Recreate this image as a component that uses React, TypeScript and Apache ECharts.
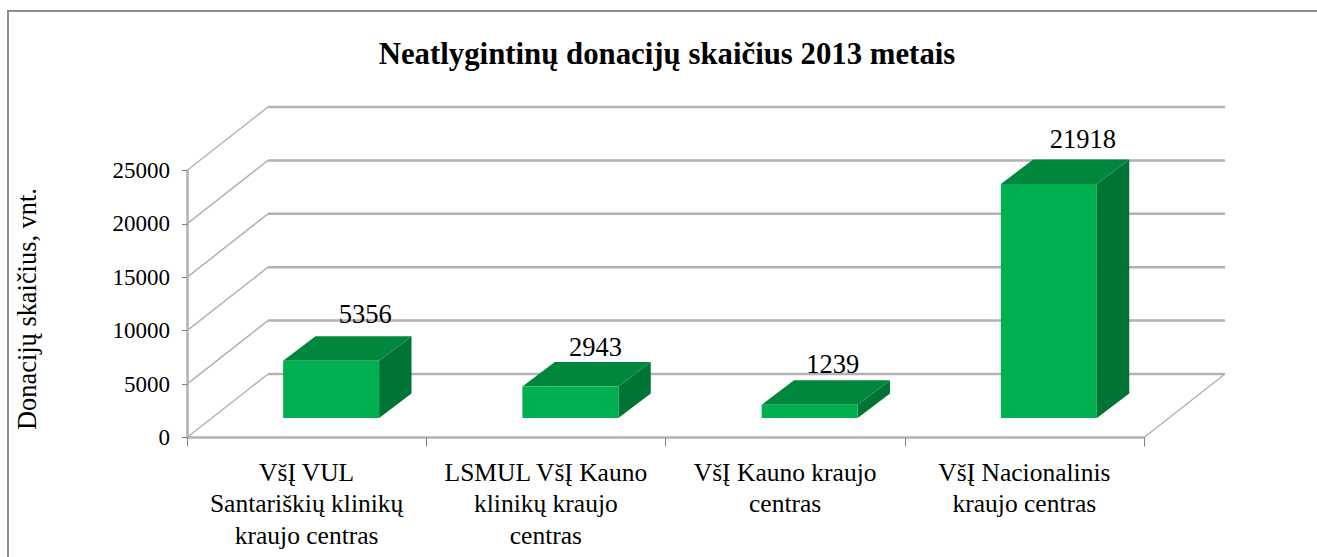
import React, { useEffect, useRef } from "react";
import * as echarts from "echarts";

const titleText = "Neatlygintinų donacijų skaičius 2013 metais";
const yAxisName = "Donacijų skaičius, vnt.";
const categories = [
  "VšĮ VUL\nSantariškių klinikų\nkraujo centras",
  "LSMUL VšĮ Kauno\nklinikų kraujo\ncentras",
  "VšĮ Kauno kraujo\ncentras",
  "VšĮ Nacionalinis\nkraujo centras",
];
const values = [5356, 2943, 1239, 21918];
const yTicks = [0, 5000, 10000, 15000, 20000, 25000];

const FONT = "'Liberation Serif', 'Times New Roman', serif";
const WALL_DX = 81;
const WALL_DY = -63.5;
const BAR_W = 96;
const BAR_SHIFT_X = 24.5;
const BAR_SHIFT_Y = -19.5;
const DEPTH_X = 32.4;
const DEPTH_Y = -24.5;
const LABEL_NUDGE_X = [34, 25, 23, 34];
const LABEL_NUDGE_Y = [-22, -15, -16, -20];

const GRID_COLOR = "#b2b2b2";

export default function App() {
  const ref = useRef<HTMLDivElement>(null);
  useEffect(() => {
    document.body.style.margin = "0";
    const chart = echarts.init(ref.current!, undefined, { renderer: "svg" });
    chart.setOption({
      animation: false,
      backgroundColor: "#ffffff",
      title: {
        text: titleText,
        left: 662,
        top: 33,
        textAlign: "center",
        textStyle: { fontFamily: FONT, fontSize: 30.8, fontWeight: "bold", color: "#000" },
      },
      grid: { left: 187, top: 170.5, width: 957, height: 267 },
      xAxis: {
        type: "category",
        data: categories,
        axisLine: { lineStyle: { color: GRID_COLOR, width: 2.5 } },
        axisTick: { show: true, length: 9, lineStyle: { color: "#808080", width: 1 } },
        axisLabel: {
          interval: 0,
          margin: 19,
          fontFamily: FONT,
          fontSize: 25.5,
          lineHeight: 31.5,
          color: "#000",
        },
        splitLine: { show: false },
      },
      yAxis: {
        type: "value",
        min: 0,
        max: 25000,
        interval: 5000,
        name: yAxisName,
        nameLocation: "middle",
        nameGap: 147,
        nameRotate: 90,
        nameTextStyle: { fontFamily: FONT, fontSize: 26.4, color: "#000", padding: [0, 10, 0, 0] },
        axisLine: { show: true, lineStyle: { color: GRID_COLOR, width: 2.5 } },
        axisTick: { show: true, length: 5, lineStyle: { color: "#808080", width: 1 } },
        axisLabel: {
          margin: 17,
          fontFamily: FONT,
          fontSize: 23,
          color: "#000",
          formatter: (v: number) => String(v),
        },
        splitLine: { show: false },
      },
      series: [
        {
          type: "custom",
          coordinateSystem: "cartesian2d",
          silent: true,
          z: 1,
          data: yTicks.map((t) => [0, t]),
          encode: { x: 0, y: 1 },
          renderItem: (params: any, api: any) => {
            const cs = params.coordSys;
            const y = api.coord([0, api.value(1)])[1];
            const x0 = cs.x;
            const x1 = cs.x + cs.width;
            const children: any[] = [
              {
                type: "line",
                shape: { x1: x0, y1: y, x2: x0 + WALL_DX, y2: y + WALL_DY },
                style: { stroke: GRID_COLOR, lineWidth: 1.5 },
              },
              {
                type: "line",
                shape: { x1: x0 + WALL_DX, y1: y + WALL_DY, x2: x1 + WALL_DX, y2: y + WALL_DY },
                style: { stroke: GRID_COLOR, lineWidth: 2.5 },
              },
            ];
            if (api.value(1) === 0) {
              children.push({
                type: "line",
                shape: { x1, y1: y, x2: x1 + WALL_DX, y2: y + WALL_DY },
                style: { stroke: GRID_COLOR, lineWidth: 1.5 },
              });
            }
            return { type: "group", children };
          },
        },
        {
          type: "custom",
          coordinateSystem: "cartesian2d",
          z: 2,
          data: values.map((v, i) => [i, v]),
          encode: { x: 0, y: 1 },
          renderItem: (_params: any, api: any) => {
            const i = api.value(0);
            const v = api.value(1);
            const top = api.coord([i, v]);
            const base = api.coord([i, 0]);
            const xl = top[0] + BAR_SHIFT_X - BAR_W / 2;
            const xr = xl + BAR_W;
            const yt = top[1] + BAR_SHIFT_Y;
            const yb = base[1] + BAR_SHIFT_Y;
            return {
              type: "group",
              children: [
                {
                  type: "polygon",
                  shape: {
                    points: [
                      [xr, yt],
                      [xr + DEPTH_X, yt + DEPTH_Y],
                      [xr + DEPTH_X, yb + DEPTH_Y],
                      [xr, yb],
                    ],
                  },
                  style: { fill: "#007434" },
                },
                {
                  type: "polygon",
                  shape: {
                    points: [
                      [xl, yt],
                      [xl + DEPTH_X, yt + DEPTH_Y],
                      [xr + DEPTH_X, yt + DEPTH_Y],
                      [xr, yt],
                    ],
                  },
                  style: { fill: "#00863D" },
                },
                {
                  type: "rect",
                  shape: { x: xl, y: yt, width: BAR_W, height: yb - yt },
                  style: { fill: "#00B050" },
                },
                {
                  type: "text",
                  style: {
                    x: xl + BAR_W / 2 + LABEL_NUDGE_X[i],
                    y: yt + DEPTH_Y + LABEL_NUDGE_Y[i],
                    text: String(v),
                    fill: "#000",
                    font: `26.5px ${FONT}`,
                    align: "center",
                    verticalAlign: "middle",
                  },
                },
              ],
            };
          },
        },
      ],
      graphic: [
        {
          type: "polyline",
          silent: true,
          shape: { points: [[8, 557], [8, 11], [1317, 11]] },
          style: { stroke: "#8c8c8c", lineWidth: 2, fill: "none" },
        },
      ],
    });
    return () => chart.dispose();
  }, []);
  return <div ref={ref} style={{ width: 1317, height: 557 }} />;
}
